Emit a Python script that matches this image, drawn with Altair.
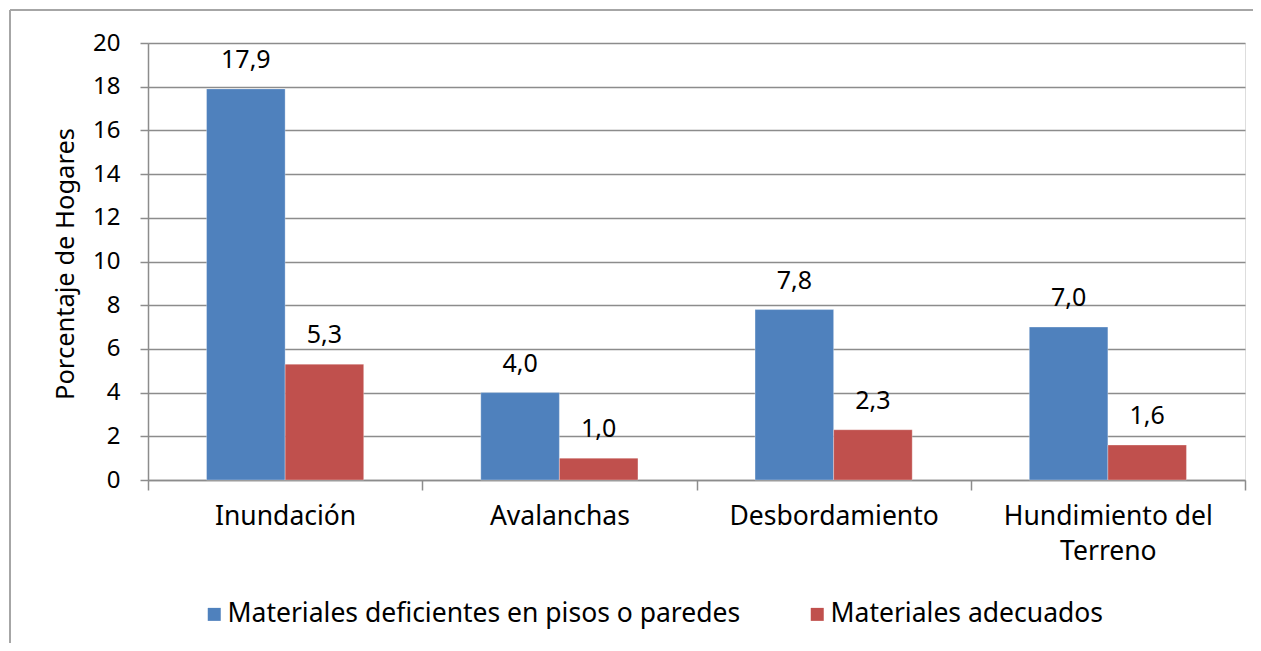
import altair as alt
import pandas as pd

categories = ["Inundación", "Avalanchas", "Desbordamiento", "Hundimiento del Terreno"]
series_names = ["Materiales deficientes en pisos o paredes", "Materiales adecuados"]
deficientes = [17.9, 4.0, 7.8, 7.0]
adecuados = [5.3, 1.0, 2.3, 1.6]
colors = ["#4F81BD", "#C0504D"]
y_ticks = [0, 2, 4, 6, 8, 10, 12, 14, 16, 18, 20]

rows = []
for c, a, b in zip(categories, deficientes, adecuados):
    rows.append({"cat": c, "series": series_names[0], "value": a})
    rows.append({"cat": c, "series": series_names[1], "value": b})
df = pd.DataFrame(rows)

FONT = "Noto Sans"
GRID = "#8c8c8c"
W, H = 1097, 437

base = alt.Chart(df).encode(
    x=alt.X(
        "cat:N",
        sort=categories,
        title=None,
        scale=alt.Scale(paddingInner=0, paddingOuter=0),
        axis=alt.Axis(
            tickBand="extent",
            labelAngle=0,
            labelFontSize=26.5,
            labelFont=FONT,
            labelColor="#000000",
            labelPadding=13,
            labelLineHeight=35,
            labelBaseline="top",
            labelLimit=400,
            tickSize=10,
            tickColor=GRID,
            tickWidth=1.5,
            domainColor=GRID,
            domainWidth=1.5,
            grid=False,
            labelExpr="datum.label == 'Hundimiento del Terreno' ? ['Hundimiento del', 'Terreno'] : datum.label",
        ),
    ),
    xOffset=alt.XOffset(
        "series:N",
        sort=series_names,
        scale=alt.Scale(paddingInner=0, paddingOuter=0.745),
    ),
    y=alt.Y(
        "value:Q",
        scale=alt.Scale(domain=[0, 20], nice=False),
        axis=alt.Axis(
            values=y_ticks,
            title="Porcentaje de Hogares",
            titleFont=FONT,
            titleFontSize=25.5,
            titleFontWeight="normal",
            titleColor="#000000",
            titleAngle=270,
            titleX=-83,
            titleY=H / 2 + 2,
            titleAlign="center",
            titleBaseline="middle",
            labelFont=FONT,
            labelFontSize=24,
            labelColor="#000000",
            labelPadding=20,
            tickSize=8,
            tickColor=GRID,
            tickWidth=1.5,
            domainColor=GRID,
            domainWidth=1.5,
            gridColor=GRID,
            gridWidth=1.5,
        ),
    ),
)

bars = base.mark_bar(stroke="white", strokeWidth=0.5, strokeOpacity=0.6).encode(
    color=alt.Color(
        "series:N",
        sort=series_names,
        scale=alt.Scale(domain=series_names, range=colors),
        legend=alt.Legend(
            title=None,
            orient="none",
            direction="horizontal",
            legendX=53,
            legendY=558,
            symbolType="square",
            symbolSize=169,
            symbolStrokeWidth=0,
            labelFont=FONT,
            labelFontSize=26.5,
            labelColor="#000000",
            labelOffset=0,
            columnPadding=63,
            labelLimit=800,
        ),
    )
)

labels = base.transform_calculate(
    label="replace(format(datum.value, '.1f'), '.', ',')"
).mark_text(
    baseline="alphabetic", dy=-21, font=FONT, fontSize=25, color="#000000"
).encode(text="label:N")

frame_df = pd.DataFrame({"k": [0]})
frame_top = alt.Chart(frame_df).mark_rule(color="#a6a6a6", strokeWidth=2).encode(
    x=alt.value(-138), x2=alt.value(W + 20), y=alt.value(-33)
)
frame_left = alt.Chart(frame_df).mark_rule(color="#a6a6a6", strokeWidth=2).encode(
    x=alt.value(-138), y=alt.value(-33), y2=alt.value(H + 200)
)

chart = (
    alt.layer(bars, labels, frame_top, frame_left)
    .properties(
        width=W,
        height=H,
        autosize=alt.AutoSizeParams(type="none"),
        padding={"left": 140, "top": 35, "right": 8, "bottom": 163},
    )
    .configure_view(stroke=None)
    .configure(background="white")
)

chart.save("out.html", embed_options={"renderer": "svg", "actions": False})
